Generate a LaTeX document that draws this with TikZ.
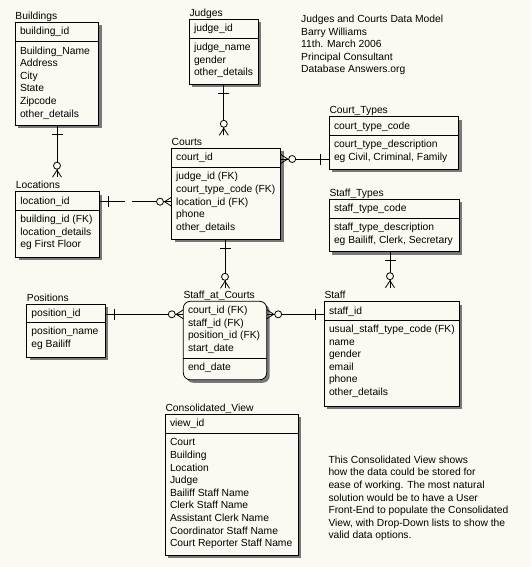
\documentclass[tikz,border=0pt]{standalone}
\usepackage{fontspec}
\setmainfont{Liberation Sans}
\usetikzlibrary{calc,shadows}
\definecolor{bgcol}{RGB}{250,250,242}
\definecolor{shadowcol}{RGB}{120,120,120}
\tikzset{
  conn/.style={draw, line width=0.8pt},
  ebox/.style={draw, line width=0.8pt, fill=bgcol, inner sep=0pt, outer sep=0pt,
    general shadow={fill=shadowcol, shadow xshift=3pt, shadow yshift=-3pt}},
  etitle/.style={anchor=base west, inner sep=0pt},
  etext/.style={anchor=base west, inner sep=0pt},
  every node/.append style={font=\fontsize{10.3}{12.6}\selectfont}
}
% #1 name, #2 x, #3 y, #4 width, #5 height, #6 title, #7 divider offset, #8 key rows, #9 attribute rows
\newcommand\erbox[9]{%
  \node[ebox, minimum width=#4, minimum height=#5, anchor=north west] (#1) at (#2,#3) {};
  \node[etitle] (#1-title) at ($(#1.north west)+(0,-3)$) {#6};
  \draw[line width=0.8pt] ($(#1.north west)+(0,#7)$) -- ($(#1.north east)+(0,#7)$);
  \foreach \t [count=\i] in {#8} \node[etext] (#1-k\i) at ($(#1.north west)+(4.5,{12.3+12.6*(\i-1)})$) {\t};
  \foreach \t [count=\i] in {#9} \node[etext] (#1-a\i) at ($(#1.north west)+(4.5,{#7+12.5+12.6*(\i-1)})$) {\t};
}
\newcommand\onebar[2]{\draw[conn, shift={(#1)}, rotate=#2] (9,-5.5) -- (9,5.5);}
\newcommand\crowfoot[2]{%
  \begin{scope}[shift={(#1)}, rotate=#2]
    \draw[conn] (0,-4.5) -- (7,0) -- (0,4.5);
    \draw[conn] (0,0) -- (8,0);
    \draw[conn, fill=bgcol] (11.5,0) circle (3.5);
  \end{scope}}
\begin{document}
\begin{tikzpicture}[x=1pt,y=-1pt]
\fill[bgcol] (0,0) rectangle (531,567);
\useasboundingbox (0,0) rectangle (531,567);

\erbox{buildings}{15.3}{22.3}{83.4pt}{103pt}{Buildings}{19.4}{building\_id}{Building\_Name,Address,City,State,Zipcode,other\_details}
\erbox{judges}{189.3}{19.3}{69pt}{65pt}{Judges}{19}{judge\_id}{judge\_name,gender,other\_details}
\erbox{courts}{171.5}{148.3}{109.2pt}{90.7pt}{Courts}{19}{court\_id}{judge\_id (FK),court\_type\_code (FK),location\_id (FK),phone,other\_details}
\erbox{ctypes}{329.3}{116.7}{129.4pt}{52.6pt}{Court\_Types}{18.6}{court\_type\_code}{court\_type\_description,{eg Civil, Criminal, Family}}
\erbox{locations}{15.7}{191.7}{83.6pt}{65.6pt}{Locations}{18.3}{location\_id}{building\_id (FK),location\_details,eg First Floor}
\erbox{stypes}{329.3}{199.3}{130pt}{52.4pt}{Staff\_Types}{19}{staff\_type\_code}{staff\_type\_description,{eg Bailiff, Clerk, Secretary}}
\erbox{positions}{26.7}{304}{78.3pt}{53.3pt}{Positions}{18.3}{position\_id}{position\_name,eg Bailiff}
\begin{scope}[ebox/.append style={rounded corners=7pt}]
\erbox{sac}{183.3}{301.3}{83.4pt}{78.5pt}{Staff\_at\_Courts}{57}{court\_id (FK),staff\_id (FK),position\_id (FK),start\_date}{end\_date}
\end{scope}
\erbox{staff}{324.3}{301.7}{135pt}{104.3pt}{Staff}{18.3}{staff\_id}{usual\_staff\_type\_code (FK),name,gender,email,phone,other\_details}
\erbox{cview}{165.3}{414.3}{133pt}{140.7pt}{Consolidated\_View}{19}{view\_id}{Court,Building,Location,Judge,Bailiff Staff Name,Clerk Staff Name,Assistant Clerk Name,Coordinator Staff Name,Court Reporter Staff Name}

% header text
\foreach \t [count=\i] in {Judges and Courts Data Model,Barry Williams,11th. March 2006,Principal Consultant,Database Answers.org}
  \node[etext] (head\i) at (301,{22.5+12.6*(\i-1)}) {\t};
% note text
\foreach \t [count=\i] in {This Consolidated View shows,how the data could be stored for,ease of working. The most natural,solution would be to have a User,Front-End to populate the Consolidated,{View, with Drop-Down lists to show the},valid data options.}
  \node[etext] (note\i) at (328.3,{463.3+12.6*(\i-1)}) {\t};

% Judges - Courts
\coordinate (jc1) at (judges.south);
\coordinate (jc2) at ($(judges.south |- courts.north)+(0,-13)$);
\draw[conn] (jc1) -- (jc2);
\onebar{jc1}{-90}
\crowfoot{jc2}{90}

% Buildings - Locations
\coordinate (bl1) at (buildings.south);
\coordinate (bl2) at ($(buildings.south |- locations.north)+(0,-14.5)$);
\draw[conn] (bl1) -- (bl2);
\onebar{bl1}{-90}
\crowfoot{bl2}{90}

% Courts - Court_Types
\coordinate (cct1) at ($(courts.north east)+(0,10.7)$);
\coordinate (cct2) at (ctypes.west |- cct1);
\draw[conn] (cct1) -- (cct2);
\crowfoot{cct1}{0}
\onebar{cct2}{180}

% Locations - Courts (dashed)
\coordinate (lc1) at ($(locations.north east)+(0,10)$);
\coordinate (lc2) at (courts.west |- lc1);
\draw[conn, dash pattern=on 26pt off 7pt] (lc1) -- (lc2);
\onebar{lc1}{0}
\crowfoot{lc2}{180}

% Courts - Staff_at_Courts
\coordinate (cs1) at (sac.north |- courts.south);
\coordinate (cs2) at ($(sac.north)+(0,-13)$);
\draw[conn] (cs1) -- (cs2);
\onebar{cs1}{-90}
\crowfoot{cs2}{90}

% Positions - Staff_at_Courts
\coordinate (ps1) at ($(positions.north east)+(0,10.3)$);
\coordinate (ps2) at (sac.west |- ps1);
\draw[conn] (ps1) -- (ps2);
\onebar{ps1}{0}
\crowfoot{ps2}{180}

% Staff_at_Courts - Staff
\coordinate (ss2) at ($(staff.north west)+(0,12.6)$);
\coordinate (ss1) at (sac.east |- ss2);
\draw[conn] (ss1) -- (ss2);
\crowfoot{ss1}{0}
\onebar{ss2}{180}

% Staff_Types - Staff
\coordinate (st1) at ($(stypes.south)+(-4.3,0)$);
\coordinate (st2) at ($(stypes.south |- staff.north)+(-4.3,-14)$);
\draw[conn] (st1) -- (st2);
\onebar{st1}{-90}
\crowfoot{st2}{90}
\end{tikzpicture}
\end{document}
